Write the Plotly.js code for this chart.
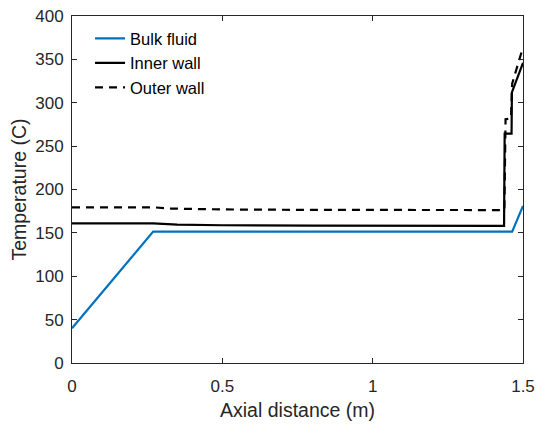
<!DOCTYPE html>
<html>
<head>
<meta charset="utf-8">
<script src="https://cdn.plot.ly/plotly-3.0.1.min.js"></script>
<style>html,body{margin:0;padding:0;background:#fff;}#chart{width:538px;height:424px;}</style>
</head>
<body>
<div id="chart"></div>
<script>
// Bulk fluid
const bulkX = [0, 0.27, 1.464, 1.5];
const bulkY = [40, 151.5, 151.5, 181];
// Inner wall
const innerX = [0, 0.27, 0.35, 0.5, 0.8, 1.2, 1.437, 1.439, 1.462, 1.463, 1.5];
const innerY = [161, 161, 159.5, 158.8, 158.3, 158, 158, 264.5, 264.5, 312, 346];
// Outer wall
const outerX = [0, 0.27, 0.33, 0.5, 0.8, 1.2, 1.438, 1.442, 1.46, 1.464, 1.5];
const outerY = [179.5, 179.5, 178, 177, 176.5, 176.3, 176.3, 281, 282, 322, 364];

const xTicks = [0, 0.5, 1, 1.5];
const xTickText = ['0', '0.5', '1', '1.5'];
const yTicks = [0, 50, 100, 150, 200, 250, 300, 350, 400];

const font = 'Liberation Sans, Arial, Helvetica, sans-serif';
const ink = '#262626';

const traces = [
  {x: bulkX, y: bulkY, name: 'Bulk fluid', mode: 'lines', line: {color: '#0072BD', width: 2.2}},
  {x: innerX, y: innerY, name: 'Inner wall', mode: 'lines', line: {color: '#000000', width: 2.2}},
  {x: outerX, y: outerY, name: 'Outer wall', mode: 'lines', line: {color: '#000000', width: 2.2, dash: '8px,6px'}}
];

const layout = {
  width: 538, height: 424,
  margin: {l: 72, r: 15, t: 16, b: 61},
  paper_bgcolor: '#fff', plot_bgcolor: '#fff',
  font: {family: font, size: 17, color: ink},
  showlegend: true,
  legend: {x: 0.04, y: 0.985, xanchor: 'left', yanchor: 'top', bgcolor: 'rgba(0,0,0,0)',
           font: {family: font, size: 16.5, color: '#000'}, tracegroupgap: 0},
  xaxis: {
    range: [0, 1.5], tickvals: xTicks, ticktext: xTickText,
    ticks: 'inside', ticklen: 5, tickcolor: ink, tickwidth: 1,
    showline: true, linecolor: ink, linewidth: 1, mirror: 'allticks',
    showgrid: false, zeroline: false, ticklabelstandoff: 8,
    tickfont: {family: font, size: 17, color: ink},
    title: {text: 'Axial distance (m)', font: {family: font, size: 19.5, color: ink}, standoff: 7}
  },
  yaxis: {
    range: [0, 400], tickvals: yTicks,
    ticks: 'inside', ticklen: 5, tickcolor: ink, tickwidth: 1,
    showline: true, linecolor: ink, linewidth: 1, mirror: 'allticks',
    showgrid: false, zeroline: false, ticklabelstandoff: 4,
    tickfont: {family: font, size: 17, color: ink},
    title: {text: 'Temperature (C)', font: {family: font, size: 19.5, color: ink}, standoff: 3}
  }
};

Plotly.newPlot('chart', traces, layout, {displayModeBar: false, staticPlot: true});
</script>
</body>
</html>
